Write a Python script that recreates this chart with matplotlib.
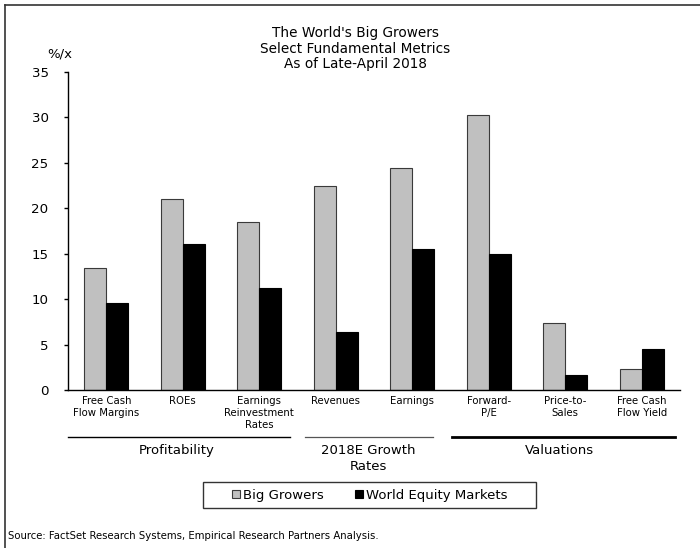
import matplotlib
matplotlib.use("Agg")
import matplotlib.pyplot as plt
import numpy as np
from matplotlib.lines import Line2D
from matplotlib.patches import Rectangle
from matplotlib.transforms import blended_transform_factory

plt.rcParams['font.family'] = ['DejaVu Sans']

categories = ["Free Cash\nFlow Margins", "ROEs", "Earnings\nReinvestment\nRates",
              "Revenues", "Earnings", "Forward-\nP/E", "Price-to-\nSales",
              "Free Cash\nFlow Yield"]
big_growers = [13.4, 21.0, 18.5, 22.5, 24.4, 30.3, 7.4, 2.3]
world_equity = [9.6, 16.1, 11.2, 6.4, 15.5, 15.0, 1.6, 4.5]
series_names = ["Big Growers", "World Equity Markets"]
groups = ["Profitability", "2018E Growth\nRates", "Valuations"]
yticks = [0, 5, 10, 15, 20, 25, 30, 35]

W, H = 700, 548
fig = plt.figure(figsize=(7.0, 5.48), dpi=100)
fig.patch.set_facecolor("white")

def fx(px):
    return px / W

def fy(py):
    return 1 - py / H

ax = fig.add_axes([fx(68), fy(390), fx(680) - fx(68), fy(72) - fy(390)])
x = np.arange(len(categories))
bw = 0.288
b1 = ax.bar(x, big_growers, width=-bw, align='edge', color="#C0C0C0",
            edgecolor="#3a3a3a", linewidth=0.8, label=series_names[0])
b2 = ax.bar(x, world_equity, width=bw, align='edge', color="black",
            edgecolor="black", linewidth=0.8, label=series_names[1])

ax.set_xlim(-0.5, 7.5)
ax.set_ylim(0, 35)
ax.set_yticks(yticks)
ax.set_yticklabels([str(v) for v in yticks], fontsize=9.6)
ax.set_xticks(x)
ax.set_xticklabels(categories, fontsize=7.3, linespacing=1.3)
ax.tick_params(axis='x', length=0, pad=4)
ax.tick_params(axis='y', direction='out', length=3, width=1, pad=11)
for s in ["top", "right"]:
    ax.spines[s].set_visible(False)
for s in ["left", "bottom"]:
    ax.spines[s].set_linewidth(1.0)
    ax.spines[s].set_color("black")

# Title and units
fig.text(fx(355), fy(26), "The World's Big Growers\nSelect Fundamental Metrics\nAs of Late-April 2018",
         ha='center', va='top', fontsize=9.8, linespacing=1.15)
fig.text(fx(60), fy(54), "%/x", ha='center', va='center', fontsize=9.5)

# Group lines and labels
tr = blended_transform_factory(ax.transData, fig.transFigure)
group_spans = [(-0.5, 2.40), (2.60, 4.27), (4.52, 7.44)]
group_lw = [1.0, 0.9, 2.0]
group_col = ["black", "#555555", "black"]
group_cx = [0.92, 3.43, 5.93]
for (a, b), lw, c in zip(group_spans, group_lw, group_col):
    ax.add_line(Line2D([a, b], [fy(437), fy(437)], transform=tr, color=c,
                       linewidth=lw, clip_on=False))
for g, cx in zip(groups, group_cx):
    ax.text(cx, fy(444), g, transform=tr, ha='center', va='top', fontsize=9.5,
            linespacing=1.25)

# Legend
fig.patches.append(Rectangle((fx(203), fy(508)), fx(536) - fx(203), fy(482) - fy(508),
                             transform=fig.transFigure, facecolor='white',
                             edgecolor='#333333', linewidth=1.0))
leg = fig.legend(handles=[b1, b2], labels=series_names, ncol=2, frameon=False,
                 loc='center', bbox_to_anchor=(fx(370), fy(495.5)), fontsize=9.5,
                 handlelength=0.55, handleheight=0.55, handletextpad=0.25,
                 columnspacing=2.4, borderpad=0, borderaxespad=0)

# Source
fig.text(fx(8), fy(536), "Source: FactSet Research Systems, Empirical Research Partners Analysis.",
         ha='left', va='center', fontsize=7.3)

# Frame (top and left edges)
fig.add_artist(Line2D([fx(5), 1.0], [fy(5), fy(5)], transform=fig.transFigure,
                      color="#333333", linewidth=1.2))
fig.add_artist(Line2D([fx(5), fx(5)], [fy(5), 0.0], transform=fig.transFigure,
                      color="#333333", linewidth=1.2))

fig.savefig("out.png", dpi=100, facecolor="white")
